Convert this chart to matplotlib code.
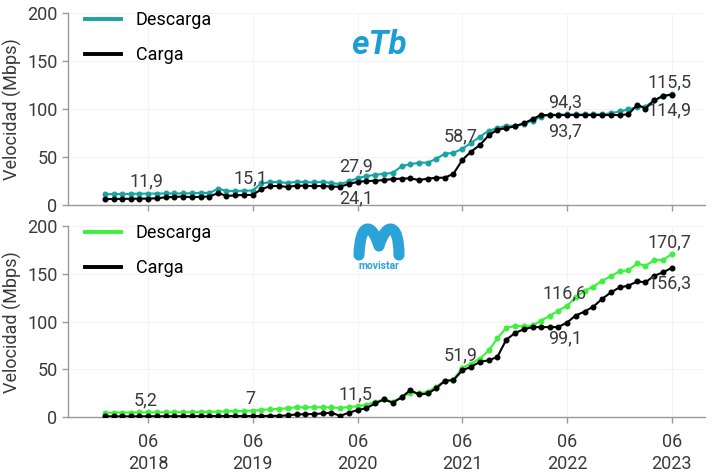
import matplotlib
matplotlib.use("Agg")
import matplotlib.pyplot as plt
import matplotlib.dates as mdates
from matplotlib.path import Path
from matplotlib.patches import PathPatch
import pandas as pd

plt.rcParams['font.family'] = ['Roboto', 'DejaVu Sans']

months = pd.date_range('2018-01-01', '2023-06-01', freq='MS')
tick_dates = pd.to_datetime(['2018-06-01', '2019-06-01', '2020-06-01',
                             '2021-06-01', '2022-06-01', '2023-06-01'])
tick_labels = ['06\n2018', '06\n2019', '06\n2020', '06\n2021', '06\n2022', '06\n2023']

etb_descarga = [11.2, 11.4, 11.5, 11.6, 11.8, 11.9, 11.9, 12.0, 12.0, 12.1, 12.2, 12.6,
                12.5, 17.0, 14.6, 14.7, 14.9, 15.1, 22.5, 23.8, 24.0, 22.8, 24.3, 23.8,
                23.5, 24.3, 22.8, 21.8, 24.5, 27.9, 30.0, 31.5, 32.5, 33.5, 40.3, 42.5,
                44.0, 44.2, 48.0, 53.5, 54.3, 58.7, 64.5, 71.0, 77.5, 80.0, 82.5, 82.5,
                84.5, 88.0, 92.0, 93.8, 94.0, 94.3, 94.3, 94.3, 94.4, 94.5, 95.5, 97.5,
                99.5, 102.0, 102.5, 109.0, 113.5, 115.5]
etb_carga = [6.2, 6.3, 6.4, 6.5, 6.6, 6.7, 7.0, 8.0, 8.5, 8.8, 8.2, 8.6,
             8.8, 12.5, 9.5, 10.0, 10.5, 10.5, 16.3, 19.8, 19.8, 18.8, 20.2, 20.0,
             19.8, 19.8, 19.2, 19.0, 21.9, 24.1, 25.0, 25.2, 26.0, 27.0, 27.5, 27.8,
             26.0, 27.5, 28.3, 28.5, 32.5, 47.0, 55.5, 62.5, 72.5, 78.5, 80.0, 82.0,
             85.0, 89.5, 93.7, 93.7, 93.7, 93.7, 93.7, 93.7, 93.7, 93.7, 93.7, 93.7,
             94.5, 104.5, 100.5, 109.0, 113.5, 114.9]
mov_descarga = [4.8, 4.9, 5.0, 5.0, 5.1, 5.2, 5.2, 5.3, 5.3, 5.4, 5.5, 5.5,
                5.8, 6.0, 6.3, 6.5, 6.8, 7.0, 7.8, 8.3, 8.8, 9.5, 10.5, 10.5,
                10.5, 10.5, 10.3, 9.8, 10.8, 11.5, 13.0, 16.3, 18.7, 16.3, 20.8, 25.6,
                25.0, 26.7, 31.9, 38.1, 39.5, 51.9, 56.1, 61.3, 70.0, 82.5, 93.5, 95.5,
                95.0, 96.0, 100.8, 106.0, 111.5, 116.6, 125.4, 132.4, 136.6, 142.8, 147.6, 152.5,
                153.9, 160.8, 158.4, 164.3, 164.3, 170.7]
mov_carga = [1.0, 1.0, 1.0, 1.0, 1.0, 1.1, 1.1, 1.1, 1.1, 1.2, 1.2, 1.2,
             1.2, 1.3, 1.3, 1.3, 1.3, 1.4, 1.4, 1.5, 1.5, 2.0, 3.0, 3.2,
             3.5, 4.0, 4.8, 1.5, 4.8, 7.5, 9.5, 14.5, 18.7, 15.2, 20.8, 28.4,
             23.9, 24.9, 30.2, 38.1, 38.8, 49.2, 52.7, 57.9, 59.6, 63.1, 81.1, 88.0,
             92.0, 94.3, 94.3, 94.3, 94.3, 99.1, 106.4, 110.5, 115.8, 123.7, 130.6, 135.8,
             137.6, 142.1, 141.1, 148.0, 151.4, 156.3]

# annotations: (month index, series, text, above?)
etb_notes = [(5, 'd', '11,9', True), (17, 'd', '15,1', True), (29, 'd', '27,9', True),
             (29, 'c', '24,1', False), (41, 'd', '58,7', True), (53, 'd', '94,3', True),
             (53, 'c', '93,7', False), (65, 'd', '115,5', True), (65, 'c', '114,9', False)]
mov_notes = [(5, 'd', '5,2', True), (17, 'd', '7', True), (29, 'd', '11,5', True),
             (41, 'd', '51,9', True), (53, 'd', '116,6', True), (53, 'c', '99,1', False),
             (65, 'd', '170,7', True), (65, 'c', '156,3', False)]

TEAL = '#1ba3a3'
GREEN = '#3df03d'
BLACK = '#000000'
TXT = '#3a3a3a'
SPINE = '#9a9a9a'

fig = plt.figure(figsize=(7.2, 4.76), dpi=100)
ax1 = fig.add_axes([68/720, 1-205/476, 637/720, 192/476])
ax2 = fig.add_axes([68/720, 1-417.3/476, 637/720, 191.3/476])

xmin = pd.Timestamp('2017-08-26')
xmax = pd.Timestamp('2023-09-25')


def style(ax, show_labels):
    ax.set_xlim(xmin, xmax)
    ax.set_ylim(0, 200)
    ax.set_yticks([0, 50, 100, 150, 200])
    ax.set_xticks(tick_dates)
    if show_labels:
        ax.set_xticklabels(tick_labels)
        for t in ax.get_xticklabels():
            t.set_linespacing(1.35)
    else:
        ax.set_xticklabels([])
    for s in ['top', 'right']:
        ax.spines[s].set_visible(False)
    for s in ['left', 'bottom']:
        ax.spines[s].set_color(SPINE)
        ax.spines[s].set_linewidth(1.0)
    ax.tick_params(axis='both', colors=SPINE, labelcolor=TXT, labelsize=13,
                   length=4, width=1.0)
    ax.tick_params(axis='x', pad=7)
    ax.grid(True, color='#f3f3f3', linewidth=0.8)
    ax.set_axisbelow(True)
    ax.set_ylabel('Velocidad (Mbps)', fontsize=13, color=TXT, labelpad=4)


def draw(ax, desc, carga, col, notes):
    ax.plot(months, desc, color=col, lw=1.5, marker='o', ms=3.3, zorder=3)
    ax.plot(months, carga, color=BLACK, lw=1.5, marker='o', ms=3.3, zorder=4)
    h1, = ax.plot([], [], color=col, lw=2.8)
    h2, = ax.plot([], [], color=BLACK, lw=2.8)
    ax.legend([h1, h2], ['Descarga', 'Carga'], loc='upper left',
              bbox_to_anchor=(0.027, 1.01), frameon=False, fontsize=13,
              handlelength=2.0, handletextpad=0.8, labelspacing=0.95,
              borderpad=0, borderaxespad=0, labelcolor=BLACK)
    for idx, ser, txt, above in notes:
        val = desc[idx] if ser == 'd' else carga[idx]
        off = 12 if above else -16
        ax.annotate(txt, (months[idx], val), xytext=(-2, off),
                    textcoords='offset pixels', ha='center', va='center',
                    fontsize=13, color=TXT, zorder=6)


style(ax1, False)
style(ax2, True)
draw(ax1, etb_descarga, etb_carga, TEAL, etb_notes)
draw(ax2, mov_descarga, mov_carga, GREEN, mov_notes)

# ETB logo
ax1.text(0.488, 0.835, 'eTb', transform=ax1.transAxes, ha='center', va='center',
         fontsize=24, fontweight='bold', fontstyle='italic', color='#1b9ed6',
         zorder=7)

# Movistar logo
LOGO = '#2ca3d8'
verts = [(0.4568, 0.8484), (0.4584, 1.021), (0.4772, 1.021), (0.4882, 0.8955),
         (0.4992, 1.021), (0.5196, 1.021), (0.5196, 0.8484)]
codes = [Path.MOVETO, Path.CURVE4, Path.CURVE4, Path.CURVE4,
         Path.CURVE4, Path.CURVE4, Path.CURVE4]
patch = PathPatch(Path(verts, codes), transform=ax2.transAxes, fill=False,
                  edgecolor=LOGO, lw=8, capstyle='round', joinstyle='round',
                  clip_on=False, zorder=7)
ax2.add_patch(patch)
ax2.text(0.488, 0.79, 'movistar', transform=ax2.transAxes, ha='center', va='center',
         fontsize=7.5, fontweight='bold', color=LOGO, zorder=7)

fig.savefig('out.png', dpi=100)
